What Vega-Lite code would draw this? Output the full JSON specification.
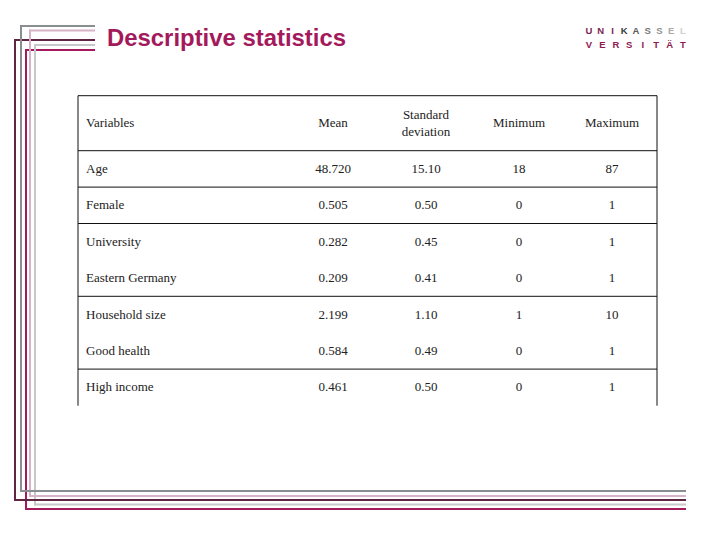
{
  "$schema": "https://vega.github.io/schema/vega-lite/v6.json",
  "width": 720,
  "height": 540,
  "padding": 0,
  "autosize": {"type": "none"},
  "background": "#ffffff",
  "config": {"view": {"stroke": null}},
  "datasets": {
    "stats": [
      {"variable": "Age", "mean": 48.72, "sd": 15.10, "min": 18, "max": 87},
      {"variable": "Female", "mean": 0.505, "sd": 0.50, "min": 0, "max": 1},
      {"variable": "University", "mean": 0.282, "sd": 0.45, "min": 0, "max": 1},
      {"variable": "Eastern Germany", "mean": 0.209, "sd": 0.41, "min": 0, "max": 1},
      {"variable": "Household size", "mean": 2.199, "sd": 1.10, "min": 1, "max": 10},
      {"variable": "Good health", "mean": 0.584, "sd": 0.49, "min": 0, "max": 1},
      {"variable": "High income", "mean": 0.461, "sd": 0.50, "min": 0, "max": 1}
    ],
    "headers": [
      {"stat": "mean", "label": "Mean"},
      {"stat": "sd", "label": "Standard deviation"},
      {"stat": "min", "label": "Minimum"},
      {"stat": "max", "label": "Maximum"}
    ],
    "frame": [
      {"line": "gray", "xv": 21, "ytop": 26, "ybot": 491},
      {"line": "pink", "xv": 30, "ytop": 30.5, "ybot": 496},
      {"line": "purple", "xv": 15, "ytop": 40, "ybot": 500},
      {"line": "lightgray", "xv": 35, "ytop": 45, "ybot": 504.5},
      {"line": "magenta", "xv": 26, "ytop": 50, "ybot": 509}
    ],
    "logoTop": [
      {"i": 0, "ch": "U", "tone": "uni"},
      {"i": 1, "ch": "N", "tone": "uni"},
      {"i": 2, "ch": "I", "tone": "uni"},
      {"i": 3, "ch": "K", "tone": "k1"},
      {"i": 4, "ch": "A", "tone": "k2"},
      {"i": 5, "ch": "S", "tone": "k3"},
      {"i": 6, "ch": "S", "tone": "k4"},
      {"i": 7, "ch": "E", "tone": "k5"},
      {"i": 8, "ch": "L", "tone": "k6"}
    ],
    "logoBottom": [
      {"i": 0, "ch": "V"},
      {"i": 1, "ch": "E"},
      {"i": 2, "ch": "R"},
      {"i": 3, "ch": "S"},
      {"i": 4, "ch": "I"},
      {"i": 5, "ch": "T"},
      {"i": 6, "ch": "Ä"},
      {"i": 7, "ch": "T"}
    ]
  },
  "data": {"values": [{}]},
  "resolve": {"scale": {"x": "independent", "y": "independent", "color": "independent"}},
  "layer": [
    {
      "data": {"name": "frame"},
      "mark": {"type": "rule", "strokeWidth": 2, "strokeCap": "square"},
      "encoding": {
        "x": {"field": "xv", "type": "quantitative", "scale": {"domain": [0, 720], "range": [0, 720], "nice": false, "zero": false}, "axis": null},
        "x2": {"datum": 94},
        "y": {"field": "ytop", "type": "quantitative", "scale": {"domain": [0, 540], "range": [0, 540], "nice": false, "zero": false}, "axis": null},
        "color": {"field": "line", "type": "nominal", "scale": {"domain": ["gray", "pink", "purple", "lightgray", "magenta"], "range": ["#8b8e90", "#d8b2c6", "#5e2545", "#c8c8ca", "#a3195b"]}, "legend": null}
      }
    },
    {
      "data": {"name": "frame"},
      "mark": {"type": "rule", "strokeWidth": 2, "strokeCap": "square"},
      "encoding": {
        "x": {"field": "xv", "type": "quantitative", "scale": {"domain": [0, 720], "range": [0, 720], "nice": false, "zero": false}, "axis": null},
        "y": {"field": "ytop", "type": "quantitative", "scale": {"domain": [0, 540], "range": [0, 540], "nice": false, "zero": false}, "axis": null},
        "y2": {"field": "ybot"},
        "color": {"field": "line", "type": "nominal", "scale": {"domain": ["gray", "pink", "purple", "lightgray", "magenta"], "range": ["#8b8e90", "#d8b2c6", "#5e2545", "#c8c8ca", "#a3195b"]}, "legend": null}
      }
    },
    {
      "data": {"name": "frame"},
      "mark": {"type": "rule", "strokeWidth": 2, "strokeCap": "square"},
      "encoding": {
        "x": {"field": "xv", "type": "quantitative", "scale": {"domain": [0, 720], "range": [0, 720], "nice": false, "zero": false}, "axis": null},
        "x2": {"datum": 685},
        "y": {"field": "ybot", "type": "quantitative", "scale": {"domain": [0, 540], "range": [0, 540], "nice": false, "zero": false}, "axis": null},
        "color": {"field": "line", "type": "nominal", "scale": {"domain": ["gray", "pink", "purple", "lightgray", "magenta"], "range": ["#8b8e90", "#d8b2c6", "#5e2545", "#c8c8ca", "#a3195b"]}, "legend": null}
      }
    },
    {
      "mark": {"type": "text", "text": "Descriptive statistics", "font": "Liberation Sans", "fontWeight": "bold", "fontSize": 23.9, "fill": "#a3195b", "align": "left", "baseline": "alphabetic"},
      "encoding": {
        "x": {"datum": 107, "type": "quantitative", "scale": {"domain": [0, 720], "range": [0, 720], "nice": false, "zero": false}, "axis": null},
        "y": {"datum": 45.7, "type": "quantitative", "scale": {"domain": [0, 540], "range": [0, 540], "nice": false, "zero": false}, "axis": null}
      }
    },
    {
      "data": {"name": "logoTop"},
      "mark": {"type": "text", "font": "Liberation Sans", "fontWeight": "bold", "fontSize": 9.5, "align": "center", "baseline": "middle"},
      "encoding": {
        "x": {"field": "i", "type": "ordinal", "scale": {"type": "point", "range": [589, 683], "padding": 0}, "axis": null},
        "y": {"datum": 31, "type": "quantitative", "scale": {"domain": [0, 540], "range": [0, 540], "nice": false, "zero": false}, "axis": null},
        "text": {"field": "ch"},
        "color": {"field": "tone", "type": "nominal", "scale": {"domain": ["uni", "k1", "k2", "k3", "k4", "k5", "k6"], "range": ["#7d1f50", "#3a3a3a", "#5a5a5a", "#777777", "#8f8f8f", "#a8a8a8", "#d0d0d0"]}, "legend": null}
      }
    },
    {
      "data": {"name": "logoBottom"},
      "mark": {"type": "text", "font": "Liberation Sans", "fontWeight": "bold", "fontSize": 9.5, "align": "center", "baseline": "middle", "fill": "#8e1a52"},
      "encoding": {
        "x": {"field": "i", "type": "ordinal", "scale": {"type": "point", "range": [589, 683], "padding": 0}, "axis": null},
        "y": {"datum": 44.5, "type": "quantitative", "scale": {"domain": [0, 540], "range": [0, 540], "nice": false, "zero": false}, "axis": null},
        "text": {"field": "ch"}
      }
    },
    {
      "mark": {"type": "rule", "stroke": "#111111", "strokeWidth": 1},
      "encoding": {
        "x": {"datum": 78, "type": "quantitative", "scale": {"domain": [0, 720], "range": [0, 720], "nice": false, "zero": false}, "axis": null},
        "x2": {"datum": 657},
        "y": {"datum": 95.7, "type": "quantitative", "scale": {"domain": [0, 540], "range": [0, 540], "nice": false, "zero": false}, "axis": null}
      }
    },
    {
      "mark": {"type": "rule", "stroke": "#111111", "strokeWidth": 1},
      "encoding": {
        "x": {"datum": 78, "type": "quantitative", "scale": {"domain": [0, 720], "range": [0, 720], "nice": false, "zero": false}, "axis": null},
        "x2": {"datum": 657},
        "y": {"datum": 150.7, "type": "quantitative", "scale": {"domain": [0, 540], "range": [0, 540], "nice": false, "zero": false}, "axis": null}
      }
    },
    {
      "mark": {"type": "rule", "stroke": "#111111", "strokeWidth": 1},
      "encoding": {
        "x": {"datum": 78, "type": "quantitative", "scale": {"domain": [0, 720], "range": [0, 720], "nice": false, "zero": false}, "axis": null},
        "y": {"datum": 95.7, "type": "quantitative", "scale": {"domain": [0, 540], "range": [0, 540], "nice": false, "zero": false}, "axis": null},
        "y2": {"datum": 405.7}
      }
    },
    {
      "mark": {"type": "rule", "stroke": "#111111", "strokeWidth": 1},
      "encoding": {
        "x": {"datum": 657, "type": "quantitative", "scale": {"domain": [0, 720], "range": [0, 720], "nice": false, "zero": false}, "axis": null},
        "y": {"datum": 95.7, "type": "quantitative", "scale": {"domain": [0, 540], "range": [0, 540], "nice": false, "zero": false}, "axis": null},
        "y2": {"datum": 405.7}
      }
    },
    {
      "data": {"name": "stats"},
      "transform": [{"filter": {"field": "variable", "oneOf": ["Age", "Female", "Eastern Germany", "Good health"]}}],
      "mark": {"type": "rule", "stroke": "#111111", "strokeWidth": 1},
      "encoding": {
        "x": {"datum": 78, "type": "quantitative", "scale": {"domain": [0, 720], "range": [0, 720], "nice": false, "zero": false}, "axis": null},
        "x2": {"datum": 657},
        "y": {"field": "variable", "type": "nominal", "bandPosition": 1, "scale": {"type": "band", "domain": ["Age", "Female", "University", "Eastern Germany", "Household size", "Good health", "High income"], "range": [150.7, 405.5], "paddingInner": 0, "paddingOuter": 0}, "axis": null}
      }
    },
    {
      "mark": {"type": "text", "text": "Variables", "font": "Liberation Serif", "fontSize": 13, "fill": "#222222", "align": "left", "baseline": "middle"},
      "encoding": {
        "x": {"datum": 86, "type": "quantitative", "scale": {"domain": [0, 720], "range": [0, 720], "nice": false, "zero": false}, "axis": null},
        "y": {"datum": 123.2, "type": "quantitative", "scale": {"domain": [0, 540], "range": [0, 540], "nice": false, "zero": false}, "axis": null}
      }
    },
    {
      "data": {"name": "headers"},
      "transform": [{"filter": "datum.stat !== 'sd'"}],
      "mark": {"type": "text", "font": "Liberation Serif", "fontSize": 13, "fill": "#222222", "align": "center", "baseline": "middle"},
      "encoding": {
        "x": {"field": "stat", "type": "nominal", "scale": {"type": "point", "domain": ["mean", "sd", "min", "max"], "range": [333, 612], "padding": 0}, "axis": null},
        "y": {"datum": 123.2, "type": "quantitative", "scale": {"domain": [0, 540], "range": [0, 540], "nice": false, "zero": false}, "axis": null},
        "text": {"field": "label"}
      }
    },
    {
      "data": {"name": "headers"},
      "transform": [{"filter": "datum.stat === 'sd'"}],
      "mark": {"type": "text", "font": "Liberation Serif", "fontSize": 13, "fill": "#222222", "align": "center", "baseline": "middle", "lineBreak": " ", "lineHeight": 17},
      "encoding": {
        "x": {"field": "stat", "type": "nominal", "scale": {"type": "point", "domain": ["mean", "sd", "min", "max"], "range": [333, 612], "padding": 0}, "axis": null},
        "y": {"datum": 114.5, "type": "quantitative", "scale": {"domain": [0, 540], "range": [0, 540], "nice": false, "zero": false}, "axis": null},
        "text": {"field": "label"}
      }
    },
    {
      "data": {"name": "stats"},
      "mark": {"type": "text", "font": "Liberation Serif", "fontSize": 13, "fill": "#222222", "align": "left", "baseline": "middle"},
      "encoding": {
        "x": {"datum": 86, "type": "quantitative", "scale": {"domain": [0, 720], "range": [0, 720], "nice": false, "zero": false}, "axis": null},
        "y": {"field": "variable", "type": "nominal", "scale": {"type": "band", "domain": ["Age", "Female", "University", "Eastern Germany", "Household size", "Good health", "High income"], "range": [150.7, 405.5], "paddingInner": 0, "paddingOuter": 0}, "axis": null},
        "text": {"field": "variable"}
      }
    },
    {
      "data": {"name": "stats"},
      "transform": [{"fold": ["mean", "sd", "min", "max"], "as": ["stat", "value"]}, {"filter": "datum.stat === 'mean'"}],
      "mark": {"type": "text", "font": "Liberation Serif", "fontSize": 13, "fill": "#222222", "align": "center", "baseline": "middle"},
      "encoding": {
        "x": {"field": "stat", "type": "nominal", "scale": {"type": "point", "domain": ["mean", "sd", "min", "max"], "range": [333, 612], "padding": 0}, "axis": null},
        "y": {"field": "variable", "type": "nominal", "scale": {"type": "band", "domain": ["Age", "Female", "University", "Eastern Germany", "Household size", "Good health", "High income"], "range": [150.7, 405.5], "paddingInner": 0, "paddingOuter": 0}, "axis": null},
        "text": {"field": "value", "type": "quantitative", "format": ".3f"}
      }
    },
    {
      "data": {"name": "stats"},
      "transform": [{"fold": ["mean", "sd", "min", "max"], "as": ["stat", "value"]}, {"filter": "datum.stat === 'sd'"}],
      "mark": {"type": "text", "font": "Liberation Serif", "fontSize": 13, "fill": "#222222", "align": "center", "baseline": "middle"},
      "encoding": {
        "x": {"field": "stat", "type": "nominal", "scale": {"type": "point", "domain": ["mean", "sd", "min", "max"], "range": [333, 612], "padding": 0}, "axis": null},
        "y": {"field": "variable", "type": "nominal", "scale": {"type": "band", "domain": ["Age", "Female", "University", "Eastern Germany", "Household size", "Good health", "High income"], "range": [150.7, 405.5], "paddingInner": 0, "paddingOuter": 0}, "axis": null},
        "text": {"field": "value", "type": "quantitative", "format": ".2f"}
      }
    },
    {
      "data": {"name": "stats"},
      "transform": [{"fold": ["mean", "sd", "min", "max"], "as": ["stat", "value"]}, {"filter": "datum.stat === 'min' || datum.stat === 'max'"}],
      "mark": {"type": "text", "font": "Liberation Serif", "fontSize": 13, "fill": "#222222", "align": "center", "baseline": "middle"},
      "encoding": {
        "x": {"field": "stat", "type": "nominal", "scale": {"type": "point", "domain": ["mean", "sd", "min", "max"], "range": [333, 612], "padding": 0}, "axis": null},
        "y": {"field": "variable", "type": "nominal", "scale": {"type": "band", "domain": ["Age", "Female", "University", "Eastern Germany", "Household size", "Good health", "High income"], "range": [150.7, 405.5], "paddingInner": 0, "paddingOuter": 0}, "axis": null},
        "text": {"field": "value", "type": "quantitative", "format": "d"}
      }
    }
  ]
}
